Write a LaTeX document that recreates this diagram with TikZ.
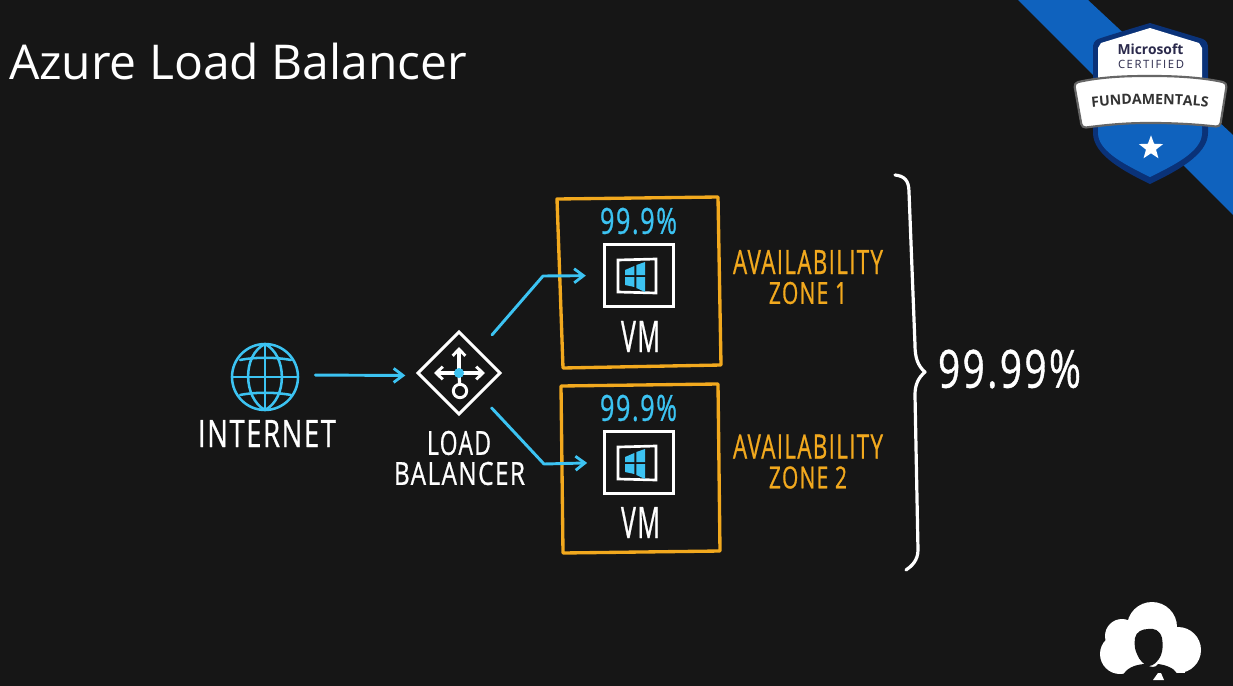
\documentclass[tikz,border=0pt]{standalone}
\usepackage{fontspec}
\usepackage{graphicx}
\setmainfont{Open Sans}
\newfontfamily\handfont[LetterSpace=6,FakeBold=0.9]{Open Sans}
\newfontfamily\capsfont[LetterSpace=14]{Open Sans}
\usetikzlibrary{arrows.meta,shapes.geometric,decorations.text}
\definecolor{bgc}{HTML}{161616}
\definecolor{skyc}{HTML}{3CC3F2}
\definecolor{amberc}{HTML}{F2A91E}
\definecolor{ribbonc}{HTML}{0F62BE}
\definecolor{navyc}{HTML}{0A3278}
\definecolor{inkc}{HTML}{2B2A4C}
\newcommand{\fitted}[3]{\resizebox{#1\dimexpr0.75pt\relax}{#2\dimexpr0.75pt\relax}{\handfont #3}}
\tikzset{
  x=0.75pt,y=-0.75pt,
  label text/.style={inner sep=0,outer sep=0,anchor=center},
  sky link/.style={draw=skyc,line width=2.2pt,line cap=round,line join=round,-{Straight Barb[length=7pt,width=10.5pt,line width=2.1pt]}},
  zone box/.style={draw=amberc,line width=2.5pt,line join=round},
  white ink/.style={draw=white,line width=2.4pt,line cap=round,line join=round},
  sky ink/.style={draw=skyc,line width=1.9pt,line cap=round,line join=round},
  vm box/.style={draw=white,line width=2.2pt,minimum width=51.75pt,minimum height=46.5pt,inner sep=0,outer sep=0},
  win box/.style={draw=white,line width=2pt},
  lb arrow/.style={draw=white,line width=2.4pt,line cap=round,-{Straight Barb[length=5pt,width=9.5pt,line width=2.2pt]}}
}
\newcommand{\vmlogo}{%
  \draw[win box] (618,260) -- (656,259) -- (656,293) -- (618,292) -- cycle;
  \fill[skyc] (625,270) -- (634.4,266) -- (634.4,275) -- (625,275) -- cycle;
  \fill[skyc] (636.4,265) -- (645,262) -- (645,275) -- (636.4,275) -- cycle;
  \fill[skyc] (625,277) -- (634.4,277) -- (634.4,287) -- (625,285) -- cycle;
  \fill[skyc] (636.4,277) -- (645,277) -- (645,292) -- (636.4,288) -- cycle;
}
\begin{document}
\begin{tikzpicture}
\useasboundingbox (0,0) rectangle (1233,686);
\fill[bgc] (0,0) rectangle (1233,686);

% title
\node[label text,white,anchor=west] (title) at (9,61) {\fontsize{36pt}{42pt}\selectfont Azure Load Balancer};

% ribbon and badge
\fill[ribbonc] (1018,0) -- (1088,0) -- (1233,135) -- (1233,215) -- cycle;
\fill[navyc] (1150,23) .. controls (1170,29) and (1190,35) .. (1203,39) .. controls (1207,41) and (1208,44) .. (1208,48) -- (1208,133) .. controls (1208,155) and (1175,172) .. (1150,184) .. controls (1125,172) and (1093,155) .. (1093,133) -- (1093,48) .. controls (1093,44) and (1094,41) .. (1098,39) .. controls (1110,35) and (1130,29) .. (1150,23) -- cycle;
\fill[white] (1150,28) -- (1199,43) -- (1202,48) -- (1202,90) -- (1098,90) -- (1098,48) -- (1101,43) -- cycle;
\fill[ribbonc] (1098,115) -- (1202,115) -- (1202,133) .. controls (1202,152) and (1172,166) .. (1150,177) .. controls (1128,166) and (1098,152) .. (1098,133) -- cycle;
\draw[draw=black!60,line width=1.6pt,fill=white,line join=round,rounded corners=3pt] (1074,83) .. controls (1100,77) and (1125,76) .. (1150,76) .. controls (1180,76) and (1205,78) .. (1227,83) -- (1220,127) .. controls (1195,124) and (1170,123) .. (1150,123) .. controls (1125,123) and (1105,125) .. (1082,128) -- cycle;
\node[label text,inkc] (ms) at (1150.5,49) {\fontsize{10.4pt}{12pt}\selectfont\bfseries Microsoft};
\node[label text,inkc] (cert) at (1151,64) {\resizebox{49.5pt}{6.2pt}{\capsfont CERTIFIED}};
\path[decorate,decoration={text along path,text align=center,text={|\fontsize{10.6pt}{13pt}\selectfont\bfseries\color{black!80}|FUNDAMENTALS}}] (1087,108) .. controls (1125,103) and (1175,103) .. (1213,108);
\node[star,star points=5,star point ratio=2.4,fill=white,inner sep=0,minimum size=19pt] (star) at (1151,148) {};

% internet
\node[circle,draw=skyc,line width=1.9pt,minimum size=49.5pt,inner sep=0,outer sep=0] (globe) at (265,377) {};
\draw[sky ink] (globe.north) .. controls (242,355) and (243,398) .. (globe.south);
\draw[sky ink] (globe.north) .. controls (287,355) and (288,398) .. (globe.south);
\draw[sky ink] (globe.north) -- (globe.south);
\draw[sky ink] (globe.west) -- (globe.east);
\draw[sky ink] (240,360) .. controls (255,357) and (275,357) .. (291,360);
\draw[sky ink] (240,395) .. controls (255,392) and (275,392) .. (291,395);
\node[label text,white] (internet) at (267,433.5) {\fitted{138}{27}{INTERNET}};

% load balancer
\node[diamond,aspect=1,draw=white,line width=2.2pt,minimum size=61.5pt,inner sep=0,outer sep=0] (lb) at (459,373) {};
\coordinate (lbup) at (459,347);
\coordinate (lbleft) at (434,373);
\coordinate (lbright) at (485,373);
\draw[lb arrow] (lb.center) -- (lbup);
\draw[lb arrow] (lb.center) -- (lbleft);
\draw[lb arrow] (lb.center) -- (lbright);
\node[circle,draw=white,line width=2.2pt,fill=bgc,minimum size=10pt,inner sep=0] (lbport) at (460,391) {};
\draw[white ink] (lb.center) -- (lbport);
\node[circle,fill=skyc,minimum size=7.5pt,inner sep=0] (lbdot) at (459,373) {};
\node[label text,white] (load) at (459,443) {\fitted{64}{24}{LOAD}};
\node[label text,white] (balancer) at (459.5,473.5) {\fitted{131}{23}{BALANCER}};

% zone 1
\draw[zone box] (557,199) -- (718,197) -- (721,365) -- (563,368) -- cycle;
\node[label text,skyc] (pct1) at (638.5,221) {\fitted{77}{26}{99.9\%}};
\node[vm box] (vm1) at (639,275.5) {};
\vmlogo
\node[label text,white] (vmt1) at (640.5,336.5) {\fitted{39}{31}{VM}};
\node[label text,amberc] (az1) at (808,262) {\fitted{150}{24}{AVAILABILITY}};
\node[label text,amberc] (zn1) at (808,293) {\fitted{78}{22}{ZONE 1}};

% zone 2
\draw[zone box] (561,386) -- (718,384) -- (720,551) -- (563,553) -- cycle;
\node[label text,skyc] (pct2) at (638.5,408) {\fitted{77}{26}{99.9\%}};
\node[vm box] (vm2) at (639,462.5) {};
\begin{scope}[shift={(0,187)}]\vmlogo\end{scope}
\node[label text,white] (vmt2) at (640.5,522.5) {\fitted{39}{31}{VM}};
\node[label text,amberc] (az2) at (808,446.5) {\fitted{150}{24}{AVAILABILITY}};
\node[label text,amberc] (zn2) at (808,477.5) {\fitted{78}{22}{ZONE 2}};

% connectors
\coordinate (bend1) at (543,276);
\coordinate (bend2) at (544,464);
\coordinate (globeout) at (298,375);
\coordinate (lbin) at (418,375.5);
\draw[sky link,shorten <=13pt,shorten >=9.5pt] (globeout) -- (lbin);
\draw[sky link,shorten <=16pt,shorten >=14pt] (lb) -- (bend1) -- (vm1.west);
\draw[sky link,shorten <=14pt,shorten >=13pt] (lb) -- (bend2) -- (vm2.west);

% brace and total
\draw[draw=white,line width=2.4pt,line cap=round,line join=round] (895,175) .. controls (904,176) and (909,180) .. (909,192) -- (915,345) .. controls (915,358) and (918,366) .. (925,372) .. controls (918,378) and (915,385) .. (915,395) -- (918,550) .. controls (918,560) and (912,566) .. (906,570);
\node[label text,white] (total) at (1009.5,369) {\fitted{143}{38}{99.99\%}};

% presenter logo
\fill[white] (1152,627) circle[radius=25];
\fill[white] (1122,636) circle[radius=17];
\fill[white] (1120,654) circle[radius=20];
\fill[white] (1178,650) circle[radius=23];
\fill[white] (1117,640) rectangle (1185,673);
\fill[bgc] (1095,673.5) rectangle (1205,686);
\fill[bgc] (1124,673.5) .. controls (1128,667) and (1138,664) .. (1146,664) .. controls (1150,668) and (1156,668) .. (1158,664) .. controls (1166,665) and (1174,668) .. (1177,673.5) -- (1177,686) -- (1124,686) -- cycle;
\fill[bgc] (1148,629) .. controls (1154,628) and (1160,630) .. (1162,638) .. controls (1163,644) and (1163,650) .. (1161,655) .. controls (1158,662) and (1153,666) .. (1149,666) .. controls (1145,666) and (1139,660) .. (1137,654) .. controls (1135,650) and (1134,645) .. (1135,638) .. controls (1136,632) and (1142,629) .. (1148,629) -- cycle;
\fill[white] (1158,673) -- (1161,673) -- (1164,680) -- (1153,680) -- cycle;
\end{tikzpicture}
\end{document}
